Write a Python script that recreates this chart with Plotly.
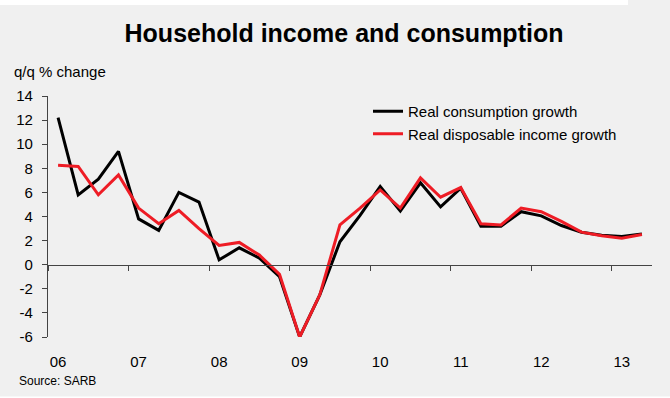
import plotly.graph_objects as go

# Quarterly growth rates, 2006Q1 - 2013Q2 (q/q % change, saar)
quarters = [f"{y}Q{q}" for y in range(2006, 2014) for q in range(1, 5)][:30]
consumption = [12.2, 5.8, 7.1, 9.4, 3.8, 2.85, 6.0, 5.2, 0.4, 1.4,
               0.55, -1.0, -6.0, -2.5, 1.9, 4.1, 6.5, 4.45, 6.8, 4.8,
               6.35, 3.2, 3.2, 4.4, 4.05, 3.25, 2.7, 2.45, 2.35, 2.55]
disposable_income = [8.25, 8.15, 5.8, 7.45, 4.7, 3.4, 4.5, 3.0, 1.6, 1.85,
                     0.8, -0.8, -6.0, -2.5, 3.3, 4.7, 6.2, 4.7, 7.2, 5.6,
                     6.4, 3.4, 3.3, 4.7, 4.4, 3.6, 2.7, 2.4, 2.2, 2.5]
year_labels = ["06", "07", "08", "09", "10", "11", "12", "13"]
y_ticks = [-6, -4, -2, 0, 2, 4, 6, 8, 10, 12, 14]
y_tick_text = [str(v).replace("\u2212", "-") for v in y_ticks]

idx = list(range(len(quarters)))
FONT = "Liberation Sans, Arial, sans-serif"
BG = "#f0f0f0"

W, H = 670, 398
L, R, T, B = 48, 18, 96, 61
pw, ph = W - L - R, H - T - B


def px(x):
    return (x - L) / pw


def py(y):
    return (H - B - y) / ph


fig = go.Figure()
fig.add_trace(go.Scatter(x=idx, y=consumption, mode="lines",
                         name="Real consumption growth",
                         line=dict(color="#000000", width=3),
                         customdata=quarters))
fig.add_trace(go.Scatter(x=idx, y=disposable_income, mode="lines",
                         name="Real disposable income growth",
                         line=dict(color="#ee1c25", width=3),
                         customdata=quarters))
# invisible trace carrying the zero-line axis with year-boundary ticks
fig.add_trace(go.Scatter(x=[idx[0]], y=[0], xaxis="x2", mode="markers",
                         marker=dict(opacity=0), showlegend=False,
                         hoverinfo="skip"))

xr = [-0.5, len(quarters) - 0.5]
fig.update_layout(
    width=W, height=H,
    margin=dict(l=L, r=R, t=T, b=B),
    paper_bgcolor=BG, plot_bgcolor=BG,
    font=dict(family=FONT, size=15, color="#000000"),
    title=dict(text="<b>Household income and consumption</b>",
               font=dict(family=FONT, size=25, color="#000000"),
               x=344 / W, xanchor="center", xref="container",
               y=1 - 33 / H, yanchor="middle", yref="container"),
    xaxis=dict(range=xr, tickvals=idx[::4], ticktext=year_labels,
               showline=False, ticks="", showgrid=False, zeroline=False,
               ticklabelstandoff=14, tickfont=dict(size=15)),
    xaxis2=dict(range=xr, overlaying="x", anchor="free", position=0.3,
                side="bottom", showline=True, linecolor="#444444",
                linewidth=1.3, ticks="outside", ticklen=5, tickwidth=1.3,
                tickcolor="#444444", tickvals=[-0.5 + 4 * k for k in range(8)],
                showticklabels=False, showgrid=False, zeroline=False),
    yaxis=dict(range=[-6, 14], tickvals=y_ticks, ticktext=y_tick_text,
               showline=True, linecolor="#444444", linewidth=1.3,
               ticks="outside", ticklen=5, tickwidth=1.3,
               tickcolor="#444444", showgrid=False, zeroline=False,
               ticklabelstandoff=6, tickfont=dict(size=15)),
    legend=dict(x=px(368), y=py(95), xanchor="left", yanchor="top",
                bgcolor="rgba(0,0,0,0)", borderwidth=0,
                font=dict(size=15)),
    showlegend=True,
)

fig.add_annotation(text="q/q % change", xref="paper", yref="paper",
                   x=px(12), y=py(72), xanchor="left", yanchor="middle",
                   showarrow=False, font=dict(size=15))
fig.add_annotation(text="Source: SARB", xref="paper", yref="paper",
                   x=px(17), y=py(381), xanchor="left", yanchor="middle",
                   showarrow=False, font=dict(size=12))

# thin white strips framing the panel
fig.add_shape(type="rect", xref="paper", yref="paper",
              x0=px(0), x1=px(628), y0=py(5), y1=py(0),
              fillcolor="#ffffff", line=dict(width=0), layer="below")
fig.add_shape(type="rect", xref="paper", yref="paper",
              x0=px(0), x1=px(W), y0=py(H), y1=py(H - 1.5),
              fillcolor="#ffffff", line=dict(width=0), layer="below")

fig.write_html("out.html")
